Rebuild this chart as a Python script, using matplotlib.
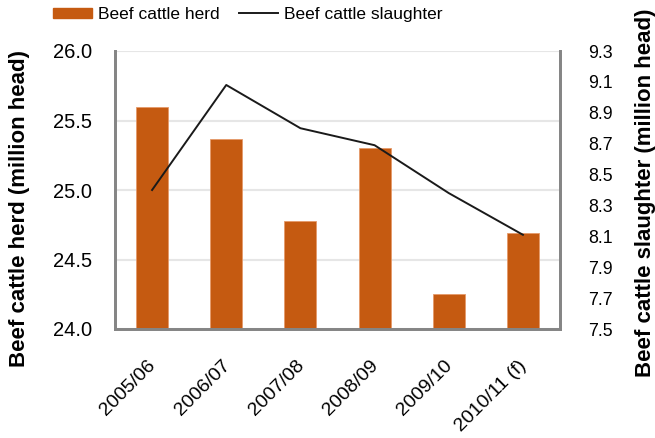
import matplotlib
matplotlib.use('Agg')
import matplotlib.pyplot as plt
import matplotlib.transforms as mtransforms
from matplotlib.lines import Line2D
from matplotlib.patches import Patch

plt.rcParams['font.family'] = ['Liberation Sans', 'DejaVu Sans']

years = ['2005/06', '2006/07', '2007/08', '2008/09', '2009/10', '2010/11 (f)']
herd = [25.60, 25.37, 24.78, 25.30, 24.25, 24.69]
slaughter = [8.40, 9.08, 8.80, 8.69, 8.38, 8.11]

orange = '#C55A11'
spine_c = '#858585'
W, H = 655, 438

fig = plt.figure(figsize=(6.55, 4.38), dpi=100)
ax = fig.add_axes([115 / W, 1 - 329 / H, 445 / W, 278 / H])
x = list(range(len(years)))

ax.bar(x, herd, width=0.43, color=orange, edgecolor='#E59A6A', linewidth=0.6, zorder=2)
ax.set_ylim(24.0, 26.0)
left_ticks = [24.0, 24.5, 25.0, 25.5, 26.0]
ax.set_yticks(left_ticks)
ax.set_yticklabels(['{:.1f}'.format(v) for v in left_ticks])
ax.set_xlim(-0.5, len(years) - 0.5)
ax.set_xticks(x)
ax.set_xticklabels(years, rotation=45, ha='right', rotation_mode='anchor')
ax.grid(axis='y', color='#E6E6E6', linewidth=1.5, zorder=0)
ax.set_axisbelow(True)

ax2 = ax.twinx()
ax2.plot(x, slaughter, color='#1a1a1a', linewidth=1.4, zorder=3)
ax2.set_ylim(7.5, 9.3)
right_ticks = [7.5, 7.7, 7.9, 8.1, 8.3, 8.5, 8.7, 8.9, 9.1, 9.3]
ax2.set_yticks(right_ticks)
ax2.set_yticklabels(['{:.1f}'.format(v) for v in right_ticks])

for a in (ax, ax2):
    a.spines['top'].set_visible(False)
    for s in ('left', 'right', 'bottom'):
        a.spines[s].set_color(spine_c)
        a.spines[s].set_linewidth(2)
    a.tick_params(length=0)
ax.tick_params(axis='y', pad=16.5, labelsize=14.5)
ax.tick_params(axis='x', pad=20, labelsize=14)
ax2.tick_params(axis='y', pad=20, labelsize=12.8)

# nudge rotated x labels a bit to the left
shift = mtransforms.ScaledTranslation(-5 / 100, 0, fig.dpi_scale_trans)
for lab in ax.get_xticklabels():
    lab.set_transform(lab.get_transform() + shift)

# axis titles
fig.text(20 / W, 1 - 367 / H, 'Beef cattle herd (million head)', rotation=90,
         ha='center', va='bottom', fontsize=16, fontweight='bold')
fig.text(645 / W, 1 - 377 / H, 'Beef cattle slaughter (million head)', rotation=90,
         ha='center', va='bottom', fontsize=16, fontweight='bold')

handles = [Patch(facecolor=orange, edgecolor=orange),
           Line2D([0], [0], color='#1a1a1a', linewidth=1.4)]
fig.legend(handles, ['Beef cattle herd', 'Beef cattle slaughter'], loc='upper left',
           bbox_to_anchor=(53 / W, 1 - 7 / H), ncol=2, frameon=False, fontsize=12.5,
           borderpad=0, borderaxespad=0,
           handlelength=2.25, handleheight=0.57, handletextpad=0.35, columnspacing=1.1)

plt.savefig('out.png', dpi=100)
